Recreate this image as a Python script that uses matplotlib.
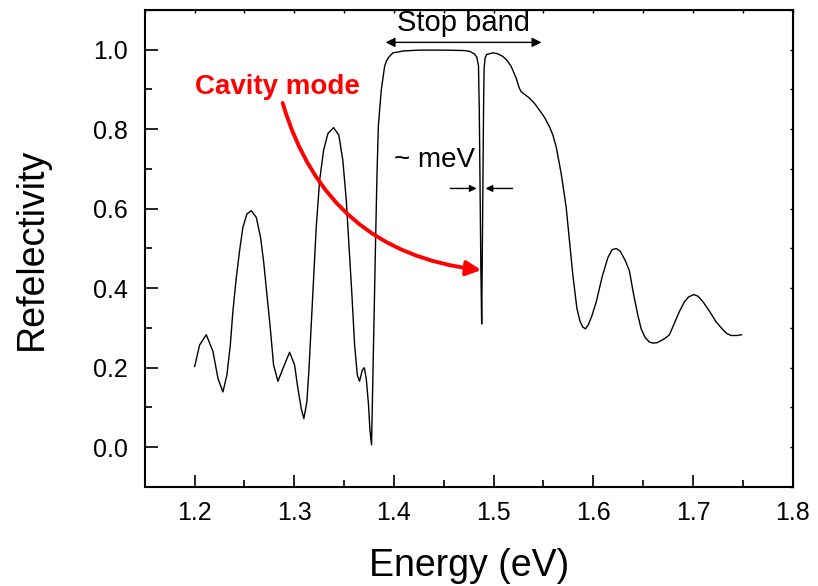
## Reflectivity spectrum of a microcavity with its stop band and cavity mode
import numpy as np
import matplotlib
matplotlib.use("Agg")
import matplotlib.pyplot as plt
from matplotlib.ticker import MultipleLocator, FormatStrFormatter

plt.rcParams['font.family'] = ['Liberation Sans', 'DejaVu Sans']

# energy (eV) and reflectivity
energy = [1.2000, 1.2050, 1.2117, 1.2184, 1.2234, 1.2284, 1.2324, 1.2358, 1.2384, 1.2418,
          1.2451, 1.2484, 1.2525, 1.2569, 1.2619, 1.2662, 1.2692, 1.2725, 1.2759, 1.2792,
          1.2836, 1.2886, 1.2953, 1.3003, 1.3036, 1.3070, 1.3096, 1.3126, 1.3146, 1.3170,
          1.3194, 1.3220, 1.3254, 1.3294, 1.3337, 1.3394, 1.3447, 1.3487, 1.3522, 1.3548,
          1.3578, 1.3605, 1.3632, 1.3655, 1.3682, 1.3702, 1.3722, 1.3745, 1.3758, 1.3775,
          1.3788, 1.3802, 1.3815, 1.3829, 1.3843, 1.3856, 1.3873, 1.3906, 1.3925, 1.3950,
          1.3989, 1.4100, 1.4257, 1.4500, 1.4700, 1.4758, 1.4805, 1.4830, 1.4848, 1.4856,
          1.4864, 1.4872, 1.4880, 1.4887, 1.4894, 1.4900, 1.4905, 1.4915, 1.4930, 1.4959,
          1.4992, 1.5040, 1.5093, 1.5135, 1.5176, 1.5227, 1.5255, 1.5277, 1.5320, 1.5360,
          1.5410, 1.5460, 1.5510, 1.5561, 1.5595, 1.5628, 1.5678, 1.5728, 1.5761, 1.5794,
          1.5835, 1.5865, 1.5895, 1.5922, 1.5950, 1.5985, 1.6029, 1.6090, 1.6146, 1.6190,
          1.6230, 1.6270, 1.6320, 1.6363, 1.6400, 1.6446, 1.6480, 1.6520, 1.6560, 1.6597,
          1.6640, 1.6680, 1.6720, 1.6764, 1.6810, 1.6865, 1.6910, 1.6955, 1.7008, 1.7050,
          1.7100, 1.7166, 1.7230, 1.7299, 1.7340, 1.7383, 1.7440, 1.7487]
reflect = [0.203, 0.257, 0.283, 0.241, 0.173, 0.139, 0.182, 0.257, 0.342, 0.426,
           0.494, 0.553, 0.587, 0.595, 0.578, 0.527, 0.468, 0.384, 0.300, 0.207,
           0.166, 0.198, 0.239, 0.207, 0.148, 0.097, 0.072, 0.114, 0.190, 0.308,
           0.426, 0.553, 0.671, 0.747, 0.789, 0.804, 0.785, 0.722, 0.620, 0.511,
           0.384, 0.258, 0.182, 0.166, 0.194, 0.200, 0.173, 0.106, 0.046, 0.006,
           0.173, 0.342, 0.511, 0.679, 0.806, 0.848, 0.899, 0.958, 0.972, 0.982,
           0.992, 0.997, 0.999, 0.999, 0.998, 0.996, 0.990, 0.982, 0.960, 0.850,
           0.650, 0.450, 0.310, 0.500, 0.700, 0.880, 0.955, 0.980, 0.988, 0.990,
           0.992, 0.990, 0.983, 0.973, 0.958, 0.928, 0.905, 0.894, 0.886, 0.878,
           0.865, 0.848, 0.830, 0.806, 0.785, 0.755, 0.688, 0.603, 0.519, 0.435,
           0.350, 0.318, 0.302, 0.298, 0.308, 0.330, 0.365, 0.430, 0.477, 0.497,
           0.500, 0.493, 0.470, 0.443, 0.390, 0.333, 0.298, 0.276, 0.265, 0.262,
           0.263, 0.268, 0.274, 0.283, 0.310, 0.342, 0.364, 0.378, 0.384, 0.380,
           0.366, 0.342, 0.316, 0.296, 0.286, 0.281, 0.281, 0.283]

cavity_E = 1.4880
cavity_R = 0.310

fig = plt.figure(figsize=(8.18, 5.86), dpi=100)
ax = fig.add_axes([0.177, 0.169, 0.792, 0.814])

ax.plot(energy, reflect, 'k-', linewidth=1.0)

ax.set_xlim(1.15, 1.8)
ax.set_ylim(-0.1, 1.1)
ax.xaxis.set_major_locator(MultipleLocator(0.1))
ax.xaxis.set_minor_locator(MultipleLocator(0.05))
ax.yaxis.set_major_locator(MultipleLocator(0.2))
ax.yaxis.set_minor_locator(MultipleLocator(0.1))
ax.xaxis.set_major_formatter(FormatStrFormatter('%.1f'))
ax.yaxis.set_major_formatter(FormatStrFormatter('%.1f'))
ax.tick_params(which='both', direction='in', width=1.2, labelsize=18)
ax.tick_params(which='major', length=9)
ax.tick_params(which='minor', length=5)
ax.tick_params(axis='x', which='major', pad=10)
ax.tick_params(axis='y', which='major', pad=12)
for sp in ax.spines.values():
    sp.set_linewidth(1.5)

# short ticks on the top and right frame
top = ax.secondary_xaxis('top')
top.xaxis.set_major_locator(MultipleLocator(0.1))
top.xaxis.set_minor_locator(MultipleLocator(0.05))
top.tick_params(which='both', direction='in', length=2.5, width=1.0, labeltop=False)
right = ax.secondary_yaxis('right')
right.yaxis.set_major_locator(MultipleLocator(0.2))
right.yaxis.set_minor_locator(MultipleLocator(0.1))
right.tick_params(which='both', direction='in', length=2.5, width=1.0, labelright=False)

ax.set_xlabel("Energy (eV)", fontsize=27, labelpad=17)
ax.set_ylabel("Refelectivity", fontsize=27, labelpad=31)

# stop band width
ax.annotate('', xy=(1.3916, 1.0185), xytext=(1.548, 1.0185),
            arrowprops=dict(arrowstyle='<|-|>', color='k', lw=1.0,
                            mutation_scale=14, shrinkA=0, shrinkB=0))
ax.text(1.47, 1.068, "Stop band", fontsize=21, ha='center', va='center')

# linewidth of the cavity mode
ax.text(1.4407, 0.7215, "~ meV", fontsize=20, ha='center', va='center')
ax.annotate('', xy=(1.4829, 0.651), xytext=(1.4565, 0.651),
            arrowprops=dict(arrowstyle='-|>', color='k', lw=1.0,
                            mutation_scale=10, shrinkA=0, shrinkB=0))
ax.annotate('', xy=(1.4919, 0.651), xytext=(1.519, 0.651),
            arrowprops=dict(arrowstyle='-|>', color='k', lw=1.0,
                            mutation_scale=10, shrinkA=0, shrinkB=0))

# cavity mode pointer
ax.text(1.2833, 0.906, "Cavity mode", fontsize=20, fontweight='bold',
        color='red', ha='center', va='center')
ax.annotate('', xy=(cavity_E - 0.0005, 0.4456), xytext=(1.2883, 0.866),
            arrowprops=dict(arrowstyle='-|>', color='red', lw=2.8,
                            mutation_scale=22, shrinkA=0, shrinkB=0,
                            connectionstyle='arc3,rad=0.33'))

fig.savefig('out.png', dpi=100)
